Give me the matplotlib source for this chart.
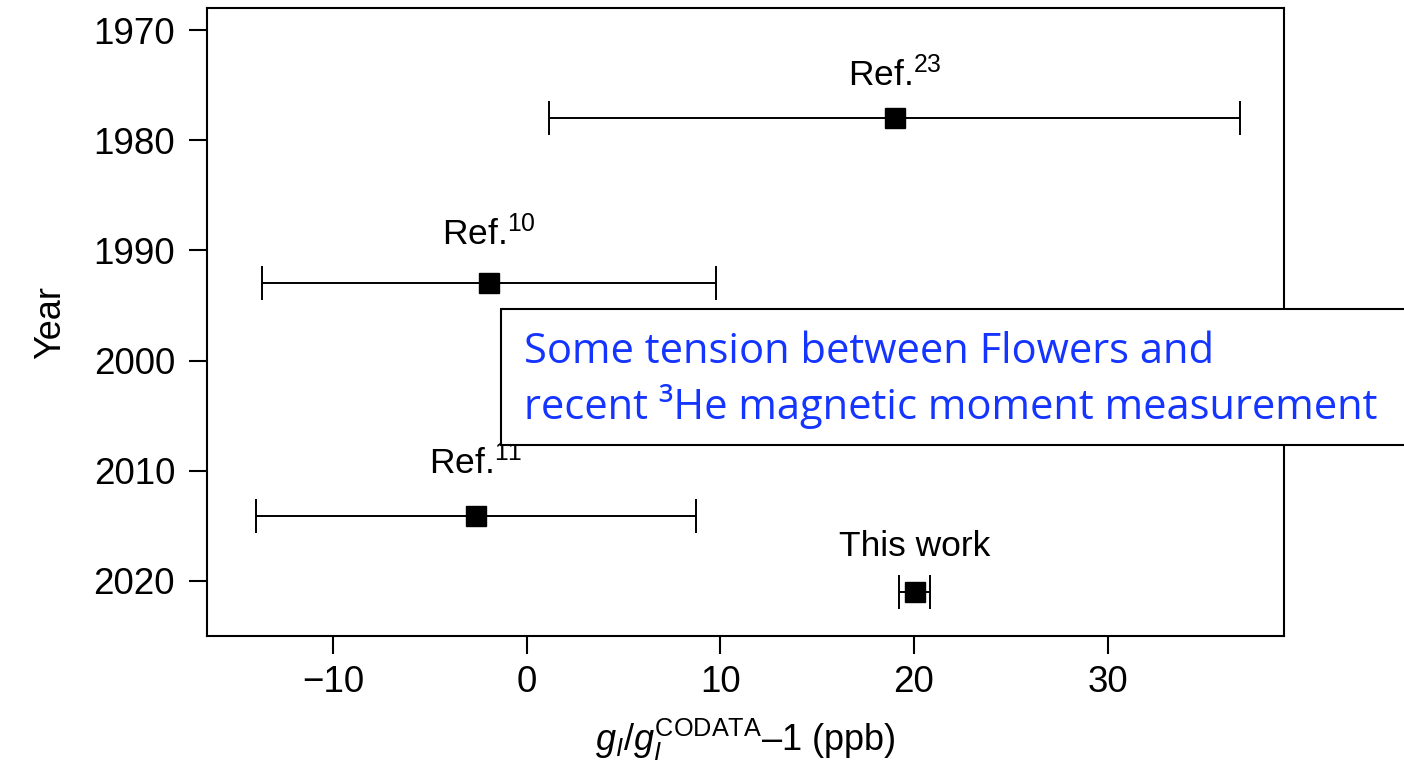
import numpy as np
from matplotlib import pyplot as plt
from matplotlib.patches import Rectangle

plt.rcParams['font.family'] = ['Liberation Sans', 'DejaVu Sans']
plt.rcParams['mathtext.fontset'] = 'custom'
plt.rcParams['mathtext.rm'] = 'Liberation Sans'
plt.rcParams['mathtext.it'] = 'Liberation Sans:italic'

# données
labels = ['Ref.$^{23}$', 'Ref.$^{10}$', 'Ref.$^{11}$', 'This work']
years = [1978.0, 1993.0, 2014.1, 2021.0]
valeurs = [19.0, -1.95, -2.6, 20.05]
erreurs = [17.85, 11.72, 11.36, 0.8]
yticks = [1970, 1980, 1990, 2000, 2010, 2020]
xticks = [-10, 0, 10, 20, 30]
decalage = [18, 23, 25, 21]   # décalage vertical des étiquettes (pt)

fig = plt.figure(figsize=(14.04, 7.7), dpi=100)
ax = fig.add_axes([0.1474, 0.174, 0.7671, 0.8156])

ax.errorbar(valeurs, years, xerr=erreurs, fmt='s', color='black',
            ms=15, ecolor='black', elinewidth=1.4, capsize=12, capthick=1.4)

for i in range(len(labels)):
    ax.annotate(labels[i], (valeurs[i], years[i]), xytext=(0, decalage[i]),
                textcoords='offset points', ha='center', va='bottom', fontsize=25.5)

ax.set_xlim(-16.5, 39.1)
ax.set_ylim(2025.0, 1968.0)
ax.set_xticks(xticks)
ax.set_yticks(yticks)
ax.set_xticklabels(['\u221210', '0', '10', '20', '30'])
ax.tick_params(labelsize=26.5, length=13, width=1.5, direction='out')
ax.tick_params(axis='y', pad=10)
ax.tick_params(axis='x', pad=8)
for s in ax.spines.values():
    s.set_linewidth(1.5)

ax.set_xlabel('$g_I/g_I^{\\mathrm{CODATA}}$\u20131 (ppb)', fontsize=26, labelpad=12)
ax.set_ylabel('Year', fontsize=26, labelpad=18)

# encadré
fig.patches.append(Rectangle((501 / 1404, 1 - 445 / 770), 910 / 1404, 136 / 770,
                             transform=fig.transFigure, facecolor='white',
                             edgecolor='black', linewidth=1.5, zorder=5))
fig.text(524 / 1404, 1 - 380 / 770,
         'Some tension between Flowers and\nrecent \u00b3He magnetic moment measurement',
         color='#1434ff', fontsize=30, family=['Open Sans', 'DejaVu Sans'],
         va='center', ha='left', linespacing=1.3, zorder=6)

plt.savefig('out.png', dpi=100)
